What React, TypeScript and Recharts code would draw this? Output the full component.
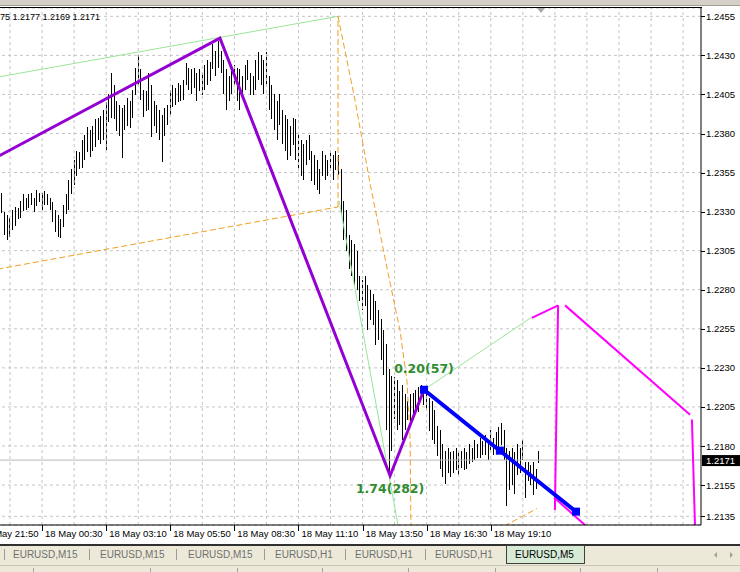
import React from 'react';
import {
  ComposedChart,
  Bar,
  Line,
  XAxis,
  YAxis,
  CartesianGrid,
  ReferenceLine,
  ReferenceDot,
} from 'recharts';

const FONT = '"Liberation Sans", Arial, sans-serif';

// ---- OHLC bar extremes (one entry per bar, oldest first) ----
const highs = [
  1.2342, 1.2330, 1.2328, 1.2326, 1.2331, 1.2333, 1.2332, 1.2337, 1.2341, 1.2339,
  1.2341, 1.2342, 1.2339, 1.2344, 1.2342, 1.2342, 1.2343, 1.2341, 1.2339, 1.2336,
  1.2331, 1.2328, 1.2325, 1.2334, 1.2341, 1.2350, 1.2357, 1.2363, 1.2369, 1.2368,
  1.2376, 1.2379, 1.2384, 1.2382, 1.2385, 1.2389, 1.2390, 1.2391, 1.2395, 1.2400,
  1.2405, 1.2419, 1.2411, 1.2401, 1.2398, 1.2396, 1.2398, 1.2403, 1.2401, 1.2408,
  1.2422, 1.2430, 1.2421, 1.2408, 1.2407, 1.2419, 1.2411, 1.2401, 1.2398, 1.2395,
  1.2392, 1.2396, 1.2398, 1.2408, 1.2411, 1.2409, 1.2412, 1.2411, 1.2414, 1.2425,
  1.2422, 1.2421, 1.2422, 1.2419, 1.2421, 1.2419, 1.2424, 1.2427, 1.2426, 1.2437,
  1.2433, 1.2439, 1.2433, 1.2427, 1.2421, 1.2417, 1.2421, 1.2424, 1.2422, 1.2421,
  1.2417, 1.2424, 1.2427, 1.2419, 1.2417, 1.2427, 1.2432, 1.2430, 1.2427, 1.2432,
  1.2417, 1.2411, 1.2405, 1.2401, 1.2405, 1.2395, 1.2392, 1.2389, 1.2385, 1.2390,
  1.2389, 1.2379, 1.2376, 1.2373, 1.2376, 1.2379, 1.2369, 1.2366, 1.2363, 1.2357,
  1.2369, 1.2366, 1.2363, 1.2369, 1.2366, 1.2369, 1.2366, 1.2357, 1.2337, 1.2331,
  1.2315, 1.2312, 1.2309, 1.2305, 1.2289, 1.2286, 1.2289, 1.2283, 1.2280, 1.2277,
  1.2273, 1.2267, 1.2261, 1.2254, 1.2245, 1.2229, 1.2225, 1.2224, 1.2222, 1.2215,
  1.2219, 1.2213, 1.2209, 1.2213, 1.2214, 1.2216, 1.2218, 1.2219, 1.2217, 1.2215,
  1.2211, 1.2209, 1.2203, 1.2193, 1.2190, 1.2181, 1.2177, 1.2179, 1.2176, 1.2177,
  1.2179, 1.2176, 1.2177, 1.2179, 1.2176, 1.2181, 1.2179, 1.2184, 1.2181, 1.2185,
  1.2183, 1.2187, 1.2184, 1.2190, 1.2185, 1.2189, 1.2192, 1.2195, 1.2190, 1.2179,
  1.2177, 1.2179, 1.2176, 1.2181, 1.2179, 1.2184, 1.2170, 1.2170, 1.2168, 1.2170,
  1.2165, 1.2177,
];

const lows = [
  1.2329, 1.2315, 1.2312, 1.2314, 1.2318, 1.2321, 1.2325, 1.2326, 1.2330, 1.2331,
  1.2332, 1.2334, 1.2330, 1.2334, 1.2336, 1.2331, 1.2334, 1.2334, 1.2331, 1.2323,
  1.2317, 1.2314, 1.2313, 1.2320, 1.2328, 1.2331, 1.2341, 1.2347, 1.2353, 1.2357,
  1.2358, 1.2363, 1.2368, 1.2365, 1.2369, 1.2371, 1.2376, 1.2373, 1.2376, 1.2369,
  1.2387, 1.2390, 1.2389, 1.2382, 1.2378, 1.2364, 1.2382, 1.2385, 1.2384, 1.2390,
  1.2405, 1.2411, 1.2401, 1.2391, 1.2394, 1.2395, 1.2378, 1.2385, 1.2380, 1.2376,
  1.2362, 1.2378, 1.2385, 1.2392, 1.2397, 1.2398, 1.2400, 1.2401, 1.2401, 1.2411,
  1.2408, 1.2405, 1.2409, 1.2401, 1.2407, 1.2405, 1.2408, 1.2411, 1.2414, 1.2421,
  1.2417, 1.2422, 1.2419, 1.2405, 1.2395, 1.2401, 1.2405, 1.2411, 1.2401, 1.2395,
  1.2405, 1.2408, 1.2414, 1.2405, 1.2405, 1.2408, 1.2414, 1.2411, 1.2405, 1.2411,
  1.2395, 1.2389, 1.2382, 1.2376, 1.2385, 1.2373, 1.2369, 1.2363, 1.2366, 1.2373,
  1.2363, 1.2357, 1.2353, 1.2350, 1.2360, 1.2363, 1.2350, 1.2347, 1.2344, 1.2341,
  1.2353, 1.2350, 1.2353, 1.2357, 1.2350, 1.2357, 1.2353, 1.2328, 1.2312, 1.2305,
  1.2293, 1.2289, 1.2283, 1.2280, 1.2273, 1.2267, 1.2270, 1.2254, 1.2261, 1.2257,
  1.2245, 1.2248, 1.2235, 1.2225, 1.2190, 1.2163, 1.2177, 1.2197, 1.2190, 1.2193,
  1.2184, 1.2190, 1.2197, 1.2193, 1.2197, 1.2203, 1.2202, 1.2213, 1.2206, 1.2203,
  1.2190, 1.2184, 1.2181, 1.2174, 1.2165, 1.2160, 1.2156, 1.2163, 1.2160, 1.2163,
  1.2165, 1.2161, 1.2166, 1.2165, 1.2165, 1.2168, 1.2170, 1.2171, 1.2172, 1.2172,
  1.2174, 1.2174, 1.2171, 1.2177, 1.2174, 1.2176, 1.2179, 1.2181, 1.2171, 1.2142,
  1.2152, 1.2155, 1.2149, 1.2161, 1.2163, 1.2171, 1.2147, 1.2158, 1.2155, 1.2149,
  1.2152, 1.2169,
];

// ---- axes ----
const timeTicks = [-9, 15, 39, 63, 87, 111, 135, 159, 183];
const timeLabels = [
  '17 May 21:50', '18 May 00:30', '18 May 03:10', '18 May 05:50', '18 May 08:30',
  '18 May 11:10', '18 May 13:50', '18 May 16:30', '18 May 19:10',
];
const gridTimes = [-9, 3, 15, 27, 39, 51, 63, 75, 87, 99, 111, 123, 135, 147, 159, 171, 183, 195, 207, 219, 231, 243, 255];
const priceTicks = [1.2135, 1.2155, 1.2180, 1.2205, 1.2230, 1.2255, 1.2280, 1.2305, 1.2330, 1.2355, 1.2380, 1.2405, 1.2430, 1.2455];
const timeDomain = [-15.72, 261.7];
const priceDomain = [1.212944, 1.246032];
const bidPrice = 1.2171;
const headerText = '75 1.2177 1.2169 1.2171';

// ---- drawn objects (time index, price) ----
const purpleZigzag = [
  { t: -15, p: 1.2353 }, { t: 81.6, p: 1.2441 }, { t: 145.3, p: 1.2161 }, { t: 158, p: 1.2216 },
];
const blueLeg = [{ t: 158, p: 1.2216 }, { t: 186.4, p: 1.2177 }, { t: 214.9, p: 1.2138 }];
const greenUpper = [{ t: -15, p: 1.2412 }, { t: 125.8, p: 1.2455 }];
const greenFall = [{ t: 126.2, p: 1.2337 }, { t: 148.3, p: 1.2129 }];
const greenRise = [{ t: 158, p: 1.2216 }, { t: 198.8, p: 1.2263 }];
const orangeBase = [{ t: -15, p: 1.2289 }, { t: 125.8, p: 1.2333 }];
const orangeVertical = [{ t: 125.8, p: 1.2333 }, { t: 125.8, p: 1.2455 }];
const orangeCurve = [
  { t: 125.8, p: 1.2455 }, { t: 132.2, p: 1.2401 }, { t: 137.8, p: 1.2348 }, { t: 144.5, p: 1.2291 },
  { t: 149.0, p: 1.2254 }, { t: 151.6, p: 1.2222 }, { t: 152.8, p: 1.2184 }, { t: 153.1, p: 1.2126 },
];
const orangeLow = [{ t: 185.0, p: 1.2126 }, { t: 200.3, p: 1.2140 }];
const magentaA = [{ t: 198.4, p: 1.2262 }, { t: 208.2, p: 1.2270 }];
const magentaB = [{ t: 208.2, p: 1.2270 }, { t: 207.0, p: 1.2139 }];
const magentaC = [{ t: 206.7, p: 1.2147 }, { t: 220.5, p: 1.2126 }];
const magentaD = [{ t: 210.8, p: 1.2270 }, { t: 257.6, p: 1.2200 }];
const magentaE = [{ t: 258.3, p: 1.2197 }, { t: 259.5, p: 1.2126 }];

const fibTimes = [158, 145.3];
const fibPrices = [1.2216, 1.2161];
const fibTexts = ['0.20(57)', '1.74(282)'];
const fibOffsets = [-21, 13];

const tabNames = ['EURUSD,M15', 'EURUSD,M15', 'EURUSD,M15', 'EURUSD,H1', 'EURUSD,H1', 'EURUSD,H1', 'EURUSD,M5'];
const tabTextX = [13, 100, 188, 275, 355, 435, 515];
const tabSepX = [4, 89, 176, 264, 345, 425];

const bars = highs.map((h, k) => ({ t: k, range: [lows[k], h] }));

function HLBar(props: any) {
  const { x, y, width, height } = props;
  if (x == null || y == null || isNaN(x) || isNaN(y)) return null;
  const cx = Math.floor(x + width / 2);
  return <rect x={cx} y={Math.round(y)} width={1} height={Math.max(1, Math.round(height))} fill="#000" />;
}

function TimeTick(props: any) {
  const { x, y, payload } = props;
  const idx = timeTicks.indexOf(payload.value);
  if (idx < 0) return null;
  const lx = Math.round(x) + 0.5;
  return (
    <g>
      <line x1={lx} y1={y} x2={lx} y2={y + 6} stroke="#000" strokeWidth={1} />
      <text x={x + 3} y={y + 12} fontSize={9.5} fontFamily={FONT} fill="#000">
        {timeLabels[idx]}
      </text>
    </g>
  );
}

function PriceTick(props: any) {
  const { x, y, payload } = props;
  const ly = Math.round(y) + 0.5;
  return (
    <g>
      <line x1={x} y1={ly} x2={x + 4} y2={ly} stroke="#000" strokeWidth={1} />
      <text x={x + 5} y={y + 3.5} fontSize={9.5} fontFamily={FONT} fill="#000">
        {Number(payload.value).toFixed(4)}
      </text>
    </g>
  );
}

function BidLabel(props: any) {
  const vb = props.viewBox || {};
  const x = vb.x + vb.width + 1;
  const y = vb.y;
  return (
    <g>
      <rect x={x} y={y - 5} width={39} height={11} fill="#000" />
      <text x={x + 4} y={y + 4} fontSize={9.5} fontFamily={FONT} fill="#fff">
        {bidPrice.toFixed(4)}
      </text>
    </g>
  );
}

function makeFibLabel(text: string, dy: number) {
  return function FibLabel(props: any) {
    const vb = props.viewBox || {};
    const cx = vb.x + (vb.width || 0) / 2;
    const cy = vb.y + (vb.height || 0) / 2;
    return (
      <text
        x={cx}
        y={cy + dy}
        textAnchor="middle"
        dominantBaseline="central"
        fontSize={12.5}
        fontWeight="bold"
        fontFamily='"DejaVu Sans", sans-serif'
        fill="#2f8c2f"
      >
        {text}
      </text>
    );
  };
}

function SquareDot(props: any) {
  const { cx, cy } = props;
  if (cx == null || cy == null) return null;
  return <rect x={cx - 4} y={cy - 4} width={8} height={8} fill="#0000ff" />;
}

const gridStroke = '#c4c4c4';

export default function App() {
  const thin = (data: any[], color: string, dash?: string, w = 1) => (
    <Line
      data={data}
      dataKey="p"
      stroke={color}
      strokeWidth={w}
      strokeDasharray={dash}
      dot={false}
      activeDot={false}
      isAnimationActive={false}
      legendType="none"
    />
  );

  return (
    <div
      style={{
        position: 'absolute',
        left: 0,
        top: 0,
        width: 740,
        height: 572,
        overflow: 'hidden',
        background: '#fff',
        fontFamily: FONT,
      }}
    >
      <div style={{ position: 'absolute', left: -40, top: 0 }}>
        <ComposedChart
          width={780}
          height={545}
          data={bars}
          margin={{ top: 8, right: 0, bottom: 0, left: 0 }}
        >
          <CartesianGrid horizontal vertical={false} stroke={gridStroke} strokeDasharray="3 3" />
          {gridTimes.map((g) => (
            <ReferenceLine key={'g' + g} x={g} stroke={gridStroke} strokeDasharray="3 3" />
          ))}
          <XAxis
            dataKey="t"
            type="number"
            domain={timeDomain}
            allowDataOverflow
            ticks={timeTicks}
            interval={0}
            tickSize={0}
            tickMargin={0}
            tickLine={false}
            tick={<TimeTick />}
            height={20}
            axisLine={{ stroke: '#000', strokeWidth: 1 }}
          />
          <YAxis
            orientation="right"
            type="number"
            domain={priceDomain}
            allowDataOverflow
            ticks={priceTicks}
            interval={0}
            tickSize={0}
            tickMargin={0}
            tickLine={false}
            tick={<PriceTick />}
            width={39}
            axisLine={{ stroke: '#000', strokeWidth: 1 }}
          />
          <ReferenceLine y={bidPrice} stroke="#b8b8b8" label={<BidLabel />} />
          <Bar
            dataKey="range"
            barSize={1}
            fill="#000"
            shape={<HLBar />}
            isAnimationActive={false}
          />
          {thin(greenUpper, '#98e698')}
          {thin(greenFall, '#98e698')}
          {thin(greenRise, '#98e698')}
          {thin(orangeBase, '#f0a020', '6 3')}
          {thin(orangeVertical, '#f0a020', '6 3')}
          {thin(orangeCurve, '#f0a020', '6 3')}
          {thin(orangeLow, '#f0a020', '6 3')}
          {thin(magentaA, '#ff00ff', undefined, 2)}
          {thin(magentaB, '#ff00ff', undefined, 2)}
          {thin(magentaC, '#ff00ff', undefined, 2)}
          {thin(magentaD, '#ff00ff', undefined, 2)}
          {thin(magentaE, '#ff00ff', undefined, 2)}
          <Line
            data={purpleZigzag}
            dataKey="p"
            stroke="#9400d3"
            strokeWidth={3}
            dot={false}
            activeDot={false}
            isAnimationActive={false}
          />
          <Line
            data={blueLeg}
            dataKey="p"
            stroke="#0000ff"
            strokeWidth={4}
            dot={<SquareDot />}
            activeDot={false}
            isAnimationActive={false}
          />
          {fibTexts.map((txt, k) => (
            <ReferenceDot
              key={txt}
              x={fibTimes[k]}
              y={fibPrices[k]}
              r={1}
              fill="none"
              stroke="none"
              label={makeFibLabel(txt, fibOffsets[k])}
            />
          ))}
        </ComposedChart>
      </div>

      {/* terminal chrome */}
      <svg
        width={740}
        height={572}
        style={{ position: 'absolute', left: 0, top: 0, pointerEvents: 'none' }}
      >
        <rect x={0} y={0} width={740} height={6} fill="#d4d0c8" />
        <rect x={0} y={5} width={740} height={1} fill="#a09c94" />
        <rect x={0} y={7} width={702} height={1} fill="#000" />
        <polygon points="537,8 545,8 541,13" fill="#a8a8a8" />
        <text x={0} y={20} fontSize={9} fontFamily={FONT} fill="#000">
          {headerText}
        </text>

        <rect x={0} y={544} width={740} height={28} fill="#ece9d8" />
        <rect x={0} y={544} width={740} height={2} fill="#303030" />
        {tabSepX.map((sx) => (
          <rect key={'s' + sx} x={sx} y={549} width={1} height={11} fill="#9a9a9a" />
        ))}
        <rect x={506.5} y={545.5} width={78} height={18} fill="#d6ead6" stroke="#404040" strokeWidth={1} />
        {tabNames.map((nm, k) => (
          <text
            key={'t' + k}
            x={tabTextX[k]}
            y={558}
            fontSize={10}
            fontFamily={FONT}
            fill={k === tabNames.length - 1 ? '#000' : '#707070'}
          >
            {nm}
          </text>
        ))}
        <polygon points="717,552 717,558 714,555" fill="#a0a0a0" />
        <polygon points="730,552 730,558 733,555" fill="#a0a0a0" />
        <rect x={0} y={565} width={740} height={1} fill="#c8c4b8" />
        {[33, 150, 237, 322, 408, 495, 580, 657].map((sx) => (
          <rect key={'b' + sx} x={sx} y={568} width={1} height={4} fill="#a0a0a0" />
        ))}
      </svg>
    </div>
  );
}
